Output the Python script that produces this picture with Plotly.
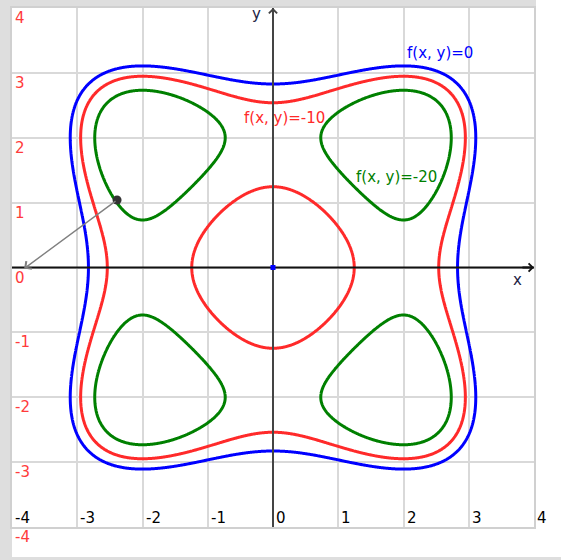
import numpy as np
import plotly.graph_objects as go

# f(x, y) = x^4 - 8x^2 + y^4 - 8y^2, drawn as level curves
levels = [0, -10, -20]
level_colors = ["#0000ff", "#ff2a2a", "#008000"]
level_labels = ["f(x, y)=0", "f(x, y)=-10", "f(x, y)=-20"]
label_x = [2.56, 0.17, 1.90]
label_y = [3.30, 2.31, 1.39]

x_ticks = [-4, -3, -2, -1, 0, 1, 2, 3, 4]
y_ticks = [4, 3, 2, 1, 0, -1, -2, -3, -4]

# point on the f=-20 curve and gradient arrow scale
point_x = [-2.39]
point_y = [1.04]
grad_scale = 0.087


def f(x, y):
    return x**4 - 8 * x**2 + y**4 - 8 * y**2


def grad(x, y):
    return 4 * x**3 - 16 * x, 4 * y**3 - 16 * y


W, H = 561, 560
FONT = "DejaVu Sans"

xs = np.linspace(-4, 4, 641)
ys = np.linspace(-4, 4, 641)
X, Y = np.meshgrid(xs, ys)
Z = f(X, Y)

fig = go.Figure()

# coordinate axes through the origin
fig.add_trace(go.Scatter(x=[-4, 4], y=[0, 0], mode="lines",
                         line=dict(color="#111111", width=2), hoverinfo="skip"))
fig.add_trace(go.Scatter(x=[0, 0], y=[-4, 4], mode="lines",
                         line=dict(color="#444444", width=2), hoverinfo="skip"))

for lvl, col in zip(levels, level_colors):
    fig.add_trace(go.Contour(
        x=xs, y=ys, z=Z,
        autocontour=False,
        contours=dict(start=lvl, end=lvl, size=1, coloring="none"),
        line=dict(color=col, width=3, smoothing=1.0),
        showscale=False, hoverinfo="skip",
    ))

# point on the curve
fig.add_trace(go.Scatter(
    x=point_x, y=point_y, mode="markers",
    marker=dict(size=9, color="#333333"), hoverinfo="skip", showlegend=False,
))
# origin marker
fig.add_trace(go.Scatter(
    x=[0], y=[0], mode="markers",
    marker=dict(size=5, color="#0000ff", symbol="square"), hoverinfo="skip", showlegend=False,
))

ann = []

# arrow heads at the ends of the axes
ann.append(dict(x=4, y=0, ax=3.8, ay=0, xref="x", yref="y", axref="x", ayref="y",
                text="", showarrow=True, arrowhead=4, arrowsize=0.8, arrowwidth=2,
                arrowcolor="#111111"))
ann.append(dict(x=0, y=4, ax=0, ay=3.8, xref="x", yref="y", axref="x", ayref="y",
                text="", showarrow=True, arrowhead=4, arrowsize=0.8, arrowwidth=2,
                arrowcolor="#444444"))

# gradient arrow from the point
gx, gy = grad(point_x[0], point_y[0])
ann.append(dict(x=point_x[0] + grad_scale * gx, y=point_y[0] + grad_scale * gy,
                ax=point_x[0], ay=point_y[0], xref="x", yref="y", axref="x", ayref="y",
                text="", showarrow=True, arrowhead=4, arrowsize=1.3, arrowwidth=1.4,
                arrowcolor="#808080"))

# axis names
ann.append(dict(x=3.74, y=-0.185, xref="x", yref="y", text="x", showarrow=False,
                font=dict(family=FONT, size=15, color="#222244")))
ann.append(dict(x=-0.26, y=3.90, xref="x", yref="y", text="y", showarrow=False,
                font=dict(family=FONT, size=15, color="#222244")))

# tick labels
for v in y_ticks:
    ann.append(dict(x=-4, y=v, xref="x", yref="y", text=str(v), showarrow=False,
                    xanchor="left", yanchor="middle", xshift=1, yshift=-10,
                    font=dict(family=FONT, size=15, color="#ff3b3b")))
for v in x_ticks:
    ann.append(dict(x=v, y=-4, xref="x", yref="y", text=str(v), showarrow=False,
                    xanchor="left", yanchor="middle", xshift=1, yshift=9,
                    font=dict(family=FONT, size=15, color="#000000")))

# level labels
for t, lx, ly, col in zip(level_labels, label_x, label_y, level_colors):
    ann.append(dict(x=lx, y=ly, xref="x", yref="y", text=t, showarrow=False,
                    font=dict(family=FONT, size=15, color=col)))

shapes = [
    dict(type="rect", xref="paper", yref="paper", x0=12 / W, x1=1, y0=3 / H, y1=1 - 7 / H,
         fillcolor="white", line=dict(width=0), layer="below"),
    dict(type="rect", xref="paper", yref="paper", x0=536 / W, x1=1, y0=3 / H, y1=1,
         fillcolor="white", line=dict(width=0), layer="below"),
]

axis_common = dict(range=[-4, 4], dtick=1, tick0=0, showgrid=True, gridcolor="#d9d9d9",
                   gridwidth=2, zeroline=False, showticklabels=False, ticks="",
                   showline=True, mirror=True, linecolor="#d0d0d0", linewidth=2,
                   fixedrange=True)

fig.update_layout(
    width=W, height=H,
    margin=dict(l=0, r=0, t=0, b=0),
    paper_bgcolor="#dedede",
    plot_bgcolor="white",
    showlegend=False,
    xaxis=dict(domain=[12 / W, 534 / W], **axis_common),
    yaxis=dict(domain=[33 / H, 552 / H], **axis_common),
    annotations=ann,
    shapes=shapes,
)

fig.write_html("out.html")
